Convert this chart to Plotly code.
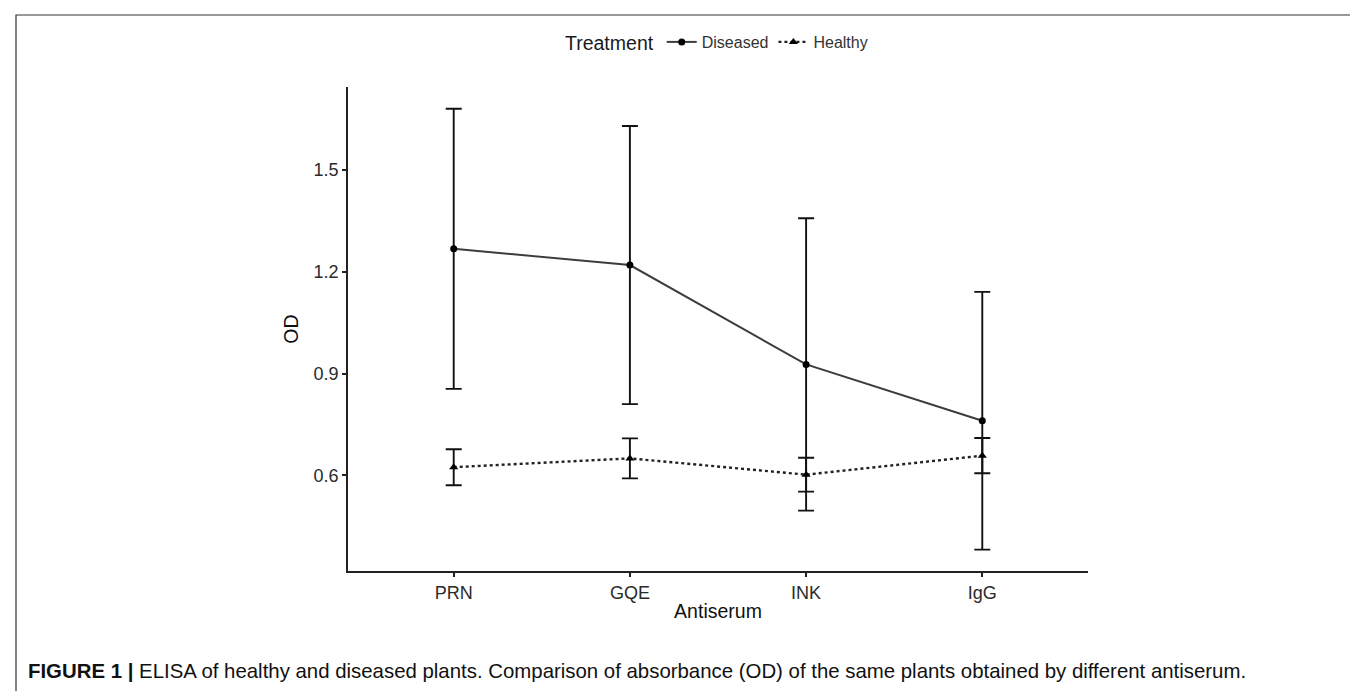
import plotly.graph_objects as go

antiserum = ["PRN", "GQE", "INK", "IgG"]
diseased_mean = [1.268, 1.220, 0.927, 0.761]
diseased_err = [0.413, 0.410, 0.431, 0.380]
healthy_mean = [0.624, 0.650, 0.602, 0.658]
healthy_err = [0.053, 0.059, 0.050, 0.052]
y_ticks = [0.6, 0.9, 1.2, 1.5]
caption_bold = "FIGURE 1 |"
caption_text = " ELISA of healthy and diseased plants. Comparison of absorbance (OD) of the same plants obtained by different antiserum."

W, H = 1358, 691
L, R, T, B = 340, 278, 79, 128
PW, PH = W - L - R, H - T - B

def px(x):
    return (x - L) / PW

def py(y):
    return (H - B - y) / PH

fig = go.Figure()
fig.add_trace(go.Scatter(
    x=antiserum, y=diseased_mean, name="Diseased", mode="lines+markers",
    line=dict(color="#3c3c3c", width=2),
    marker=dict(symbol="circle", size=7, color="black"),
    error_y=dict(type="data", array=diseased_err, visible=True,
                 color="#111111", thickness=1.9, width=8),
))
fig.add_trace(go.Scatter(
    x=antiserum, y=healthy_mean, name="Healthy", mode="lines+markers",
    line=dict(color="#222222", width=2.4, dash="dot"),
    marker=dict(symbol="triangle-up", size=8, color="black"),
    error_y=dict(type="data", array=healthy_err, visible=True,
                 color="#111111", thickness=1.9, width=8),
))

axis_font = dict(family="Liberation Sans, Arial, sans-serif", size=18, color="#2a2a2a")
fig.update_layout(
    width=W, height=H,
    margin=dict(l=L, r=R, t=T, b=B, autoexpand=False),
    paper_bgcolor="white", plot_bgcolor="white",
    font=dict(family="Liberation Sans, Arial, sans-serif", color="#222222"),
    showlegend=True,
    legend=dict(
        orientation="h", x=0.5, xanchor="center", y=py(35), yanchor="middle",
        title=dict(text="Treatment", font=dict(size=19.5, color="#1a1a1a")),
        font=dict(size=16, color="#333333"), itemwidth=30,
        bgcolor="rgba(0,0,0,0)",
    ),
    xaxis=dict(
        type="category", range=[-0.6, 3.6], showgrid=False, zeroline=False,
        showline=True, linecolor="#222222", linewidth=1.8,
        ticks="outside", ticklen=4, tickcolor="#222222", tickwidth=1.5,
        tickfont=axis_font,
        title=dict(text="Antiserum", font=dict(size=19.5, color="#111111"), standoff=3),
    ),
    yaxis=dict(
        range=[0.318, 1.745], tickvals=y_ticks, ticktext=[f"{v:.1f}" for v in y_ticks],
        showgrid=False, zeroline=False,
        showline=True, linecolor="#222222", linewidth=1.8,
        ticks="outside", ticklen=4, tickcolor="#222222", tickwidth=1.5,
        tickfont=axis_font,
        title=dict(text="OD", font=dict(size=19.5, color="#111111"), standoff=10),
    ),
    shapes=[dict(type="rect", xref="paper", yref="paper",
                 x0=px(8), x1=px(1350), y0=py(720), y1=py(7),
                 line=dict(color="#333333", width=1.2), fillcolor="rgba(0,0,0,0)",
                 layer="below")],
    annotations=[dict(
        text=f"<b>{caption_bold}</b>{caption_text}", xref="paper", yref="paper",
        x=px(18), y=py(663), xanchor="left", yanchor="middle", showarrow=False,
        font=dict(family="Liberation Sans, Arial, sans-serif",
                  size=20.4, color="#111111"),
    )],
)

fig.write_html("out.html")
